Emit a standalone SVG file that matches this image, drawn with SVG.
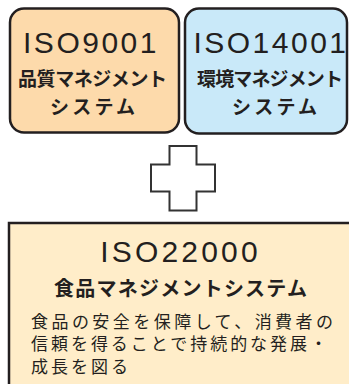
<svg xmlns="http://www.w3.org/2000/svg" width="349" height="384" viewBox="0 0 349 384">
  <style>
    .box { stroke: #231F20; stroke-width: 2.5; }
    .iso { font-family: "Liberation Sans", Arial, sans-serif; font-size: 30px; fill: #231F20; text-anchor: middle; letter-spacing: 2.5px; }
    .sub { font-family: "Noto Sans CJK JP", "Noto Sans", sans-serif; font-size: 19px; font-weight: bold; fill: #231F20; }
    .body { font-family: "Noto Sans CJK JP", "Noto Sans", sans-serif; font-size: 17px; fill: #231F20; }
  </style>
  <rect width="349" height="384" fill="#FFFFFF"/>
  <g id="iso9001">
    <rect class="box" x="10" y="8.5" width="169" height="124" rx="14" fill="#FDDAAB"/>
    <text class="iso" x="91" y="53">ISO9001</text>
    <text class="sub" x="18" y="86" textLength="149" lengthAdjust="spacing">品質マネジメント</text>
    <text class="sub" x="50" y="114" textLength="85" lengthAdjust="spacing">システム</text>
  </g>
  <g id="iso14001">
    <rect class="box" x="185" y="8.5" width="162" height="125" rx="14" fill="#C9E9F9"/>
    <text class="iso" x="271" y="53">ISO14001</text>
    <text class="sub" x="197" y="86" textLength="146" lengthAdjust="spacing">環境マネジメント</text>
    <text class="sub" x="232" y="114" textLength="85" lengthAdjust="spacing">システム</text>
  </g>
  <g id="plus">
    <path d="M169.5,146 H196.5 V164.5 H215 V191.5 H196.5 V210.5 H169.5 V191.5 H151 V164.5 H169.5 Z" fill="#FFFFFF" stroke="#333333" stroke-width="2"/>
  </g>
  <g id="iso22000">
    <rect x="9" y="223" width="360" height="180" fill="#FFEDC9" stroke="#231F20" stroke-width="2.5"/>
    <text class="iso" x="180.5" y="262" style="letter-spacing:3.2px">ISO22000</text>
    <text class="sub" x="54" y="296" textLength="253" lengthAdjust="spacing" style="font-size:20px">食品マネジメントシステム</text>
    <text class="body" x="31" y="327.5" textLength="302" lengthAdjust="spacing">食品の安全を保障して、消費者の</text>
    <text class="body" x="31" y="350" textLength="296" lengthAdjust="spacing">信頼を得ることで持続的な発展・</text>
    <text class="body" x="31" y="372.5" textLength="97" lengthAdjust="spacing">成長を図る</text>
  </g>
  <g id="connectors"/>
</svg>
